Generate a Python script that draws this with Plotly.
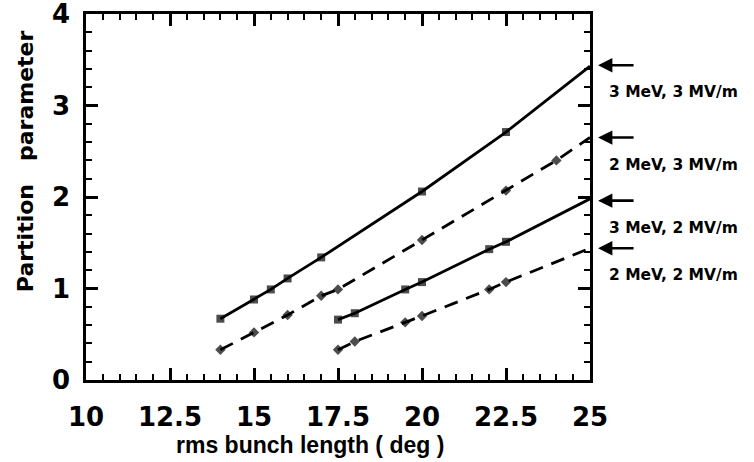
import plotly.graph_objects as go

# ---- data ----
x_3mev_3mvm = [14.0, 15.0, 15.5, 16.0, 17.0, 20.0, 22.5, 25.0]
y_3mev_3mvm = [0.67, 0.88, 0.99, 1.11, 1.34, 2.06, 2.71, 3.43]

x_2mev_3mvm = [14.0, 15.0, 16.0, 17.0, 17.5, 20.0, 22.5, 24.0, 25.0]
y_2mev_3mvm = [0.33, 0.52, 0.71, 0.92, 0.99, 1.53, 2.07, 2.40, 2.65]

x_3mev_2mvm = [17.5, 18.0, 19.5, 20.0, 22.0, 22.5, 25.0]
y_3mev_2mvm = [0.66, 0.73, 0.99, 1.07, 1.43, 1.51, 1.98]

x_2mev_2mvm = [17.5, 18.0, 19.5, 20.0, 22.0, 22.5, 25.0]
y_2mev_2mvm = [0.33, 0.42, 0.63, 0.70, 0.99, 1.07, 1.44]

labels = ["3 MeV, 3 MV/m", "2 MeV, 3 MV/m", "3 MeV, 2 MV/m", "2 MeV, 2 MV/m"]
arrow_y = [3.44, 2.65, 1.96, 1.44]

x_ticks = [10, 12.5, 15, 17.5, 20, 22.5, 25]
x_ticktext = ["10", "12.5", "15", "17.5", "20", "22.5", "25"]
y_ticks = [0, 1, 2, 3, 4]

x_title = "rms bunch length ( deg )"
y_title = "Partition   parameter"

series = [
    (x_3mev_3mvm, y_3mev_3mvm, "solid", "square"),
    (x_2mev_3mvm, y_2mev_3mvm, "14px,9px", "diamond"),
    (x_3mev_2mvm, y_3mev_2mvm, "solid", "square"),
    (x_2mev_2mvm, y_2mev_2mvm, "14px,9px", "diamond"),
]

fig = go.Figure()
for (xs, ys, dash, sym), name in zip(series, labels):
    sizes = [8] * (len(xs) - 1) + [0]
    fig.add_trace(go.Scatter(
        x=xs, y=ys, mode="lines+markers", name=name,
        line=dict(color="black", width=2.8, dash=dash),
        marker=dict(color="black", size=sizes, symbol=sym, line=dict(width=0)),
        showlegend=False, cliponaxis=False,
    ))

# right-side arrows and labels
for lab, yv in zip(labels, arrow_y):
    fig.add_annotation(
        x=1.016, y=yv, xref="paper", yref="y",
        ax=37, ay=0, axref="pixel", ayref="pixel",
        showarrow=True, arrowhead=2, arrowsize=1.1, arrowwidth=2.6,
        arrowcolor="black", text="",
    )
    fig.add_annotation(
        x=1.033, y=yv, xref="paper", yref="y", yshift=-27,
        text=lab, showarrow=False, xanchor="left", yanchor="middle",
        font=dict(family="DejaVu Sans", size=15.5, color="black", weight="bold"),
    )

# axis titles as annotations (positioned like the reference)
fig.add_annotation(
    x=0.445, y=-0.178, xref="paper", yref="paper",
    text=x_title, showarrow=False, xanchor="center", yanchor="middle",
    font=dict(family="Liberation Sans, Arial", size=23, color="black", weight="bold"),
)
fig.add_annotation(
    x=-0.121, y=0.598, xref="paper", yref="paper", textangle=-90,
    text=y_title, showarrow=False, xanchor="center", yanchor="middle",
    font=dict(family="DejaVu Sans", size=22, color="black", weight="bold"),
)

tick_font = dict(family="DejaVu Sans", size=26, color="black", weight="bold")
common = dict(ticks="inside", ticklen=12, tickwidth=2.5, tickcolor="black",
              showline=True, linecolor="black", linewidth=2.5, mirror="allticks",
              showgrid=False, zeroline=False, automargin=False, layer="above traces")

fig.update_layout(
    width=754, height=462,
    margin=dict(l=86, r=164, t=14, b=82),
    plot_bgcolor="white", paper_bgcolor="white",
    xaxis=dict(range=[10, 25], tickvals=x_ticks, ticktext=x_ticktext,
               minor=dict(ticks="inside", ticklen=6, tickwidth=2.2, dtick=0.5, tickcolor="black"),
               tickfont=tick_font, ticklabelstandoff=12, ticklabeloverflow="allow", **common),
    yaxis=dict(range=[0, 4], tickvals=y_ticks,
               minor=dict(ticks="inside", ticklen=6, tickwidth=2.2, dtick=0.2, tickcolor="black"),
               tickfont=tick_font, ticklabelstandoff=8, ticklabeloverflow="allow", **common),
)

fig.write_html("out.html", config={"displayModeBar": False},
               post_script="document.body.style.margin='0';")
